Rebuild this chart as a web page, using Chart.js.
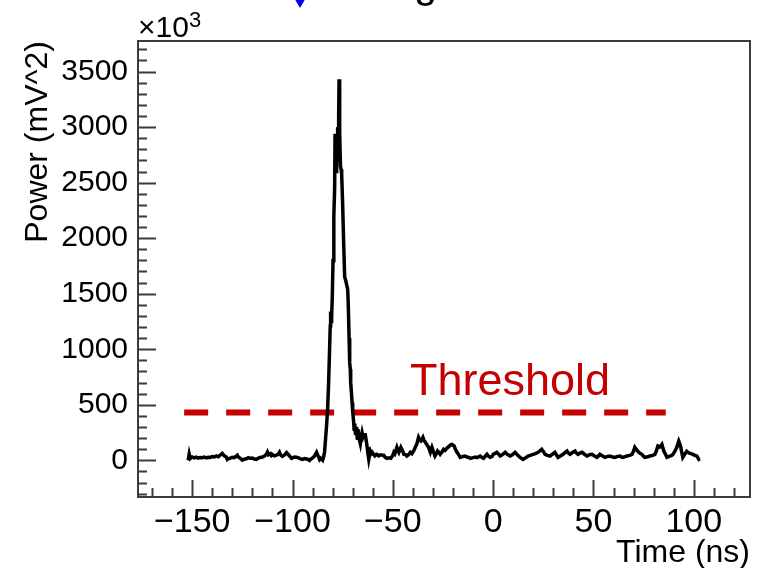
<!DOCTYPE html>
<html>
<head>
<meta charset="utf-8">
<script src="https://cdn.jsdelivr.net/npm/chart.js@4.4.1/dist/chart.umd.min.js"></script>
<style>
  html, body { margin: 0; padding: 0; background: #fff; }
</style>
</head>
<body>
<canvas id="powerChart" width="761" height="568"></canvas>
<script>
// waveform, power in units of 10^3 mV^2
const times = [
  -152, -151.5, -151, -150, -149, -148, -147, -146, -145, -144, -143, -142, -141, -140, -139, -138, -137, -136, -135, -134,
  -133, -132.5, -132, -131, -130, -129, -128, -127.5, -127, -126, -125, -124, -123, -122, -121, -120, -119, -118, -117, -116,
  -115, -114, -113, -112.5, -112, -111, -110.5, -110, -109, -108, -107, -106.5, -106, -105, -104, -103, -102, -101, -100.5, -100,
  -99, -98, -97, -96, -95, -94, -93, -92, -91.5, -91, -90, -89, -88, -87.5, -87, -86.5, -86, -85, -84.5,
  -84, -83.5, -83, -82.5, -82, -81.6, -81.2, -81, -80.8, -80.5, -80.2, -79.8, -79.4, -79, -78.8, -78.6, -78.4, -78.2, -78, -77.8,
  -77.5, -77.2, -77, -76.8, -76.6, -76.4, -76.1, -75.8, -75.5, -75, -74.5, -74, -73.5, -73, -72.5, -72.2, -71.8, -71.5, -71.2, -71,
  -70.6, -70.3, -70, -69.6, -69.3, -69, -68.6, -68.3, -68, -67.7, -67.4, -67, -66.6, -66.2, -65.8, -65.3, -64.8, -64.3, -63.7, -63.2,
  -62.8, -62.4, -62, -61.5, -61.2, -60.8, -60.3, -59.5, -59, -58.5, -58, -57, -56, -55, -54.5, -54, -53, -52, -51, -50,
  -49.5, -49, -48, -47.5, -47, -46.5, -46, -45, -44.5, -43.5, -43, -42, -41.3, -40.5, -39.5, -38.8, -38, -37.2, -36.5, -36,
  -35.5, -35, -34.5, -33.8, -33, -32.2, -31.3, -30.5, -30, -29, -28.3, -27.7, -27, -26.4, -25.5, -24.7, -24, -23, -22, -21.2,
  -20.5, -19.5, -18.8, -18, -17, -16.4, -15, -14, -13, -12, -11.4, -10.5, -9.5, -9, -8, -7, -6.5, -5.5, -4.8, -4,
  -3.1, -2.5, -1.5, -0.5, 0, 1, 1.8, 2.5, 3.5, 4.5, 6, 7, 8.5, 9.5, 10.9, 12, 13.4, 14.9, 16, 17.4,
  18.5, 19.9, 21, 22.4, 23.3, 24.2, 25, 25.9, 27, 28.4, 29.5, 30.8, 31.5, 32.3, 33.5, 34.8, 35.8, 36.8, 37.5, 38.3,
  39.5, 40.8, 41.5, 42.3, 43.3, 44.3, 45.5, 46.8, 48, 49.3, 50.5, 51.7, 52.5, 53.2, 54.5, 55.7, 57, 58.2, 59.5, 60.7,
  62, 63.2, 64, 64.7, 65.7, 66.7, 68, 69.2, 70, 70.6, 71.3, 72.1, 73, 74.1, 75, 75.6, 77, 78.1, 79.5, 80.6,
  81.4, 82.1, 83, 84.1, 84.6, 85.1, 86, 86.6, 87.5, 88.1, 89, 89.6, 90.5, 91.5, 92.5, 93, 93.5, 94.5, 95.5, 96.5,
  97.3, 98, 99, 99.5, 100.5, 101.5, 102, 102.5, 103
];
const power = [
  0, 55, 15, 30, 22, 28, 20, 26, 24, 30, 22, 28, 26, 34, 30, 40, 32, 48, 62, 40,
  30, 8, 14, 20, 28, 24, 38, 46, 30, 18, 2, 10, 14, 24, 18, 20, 12, 8, 20, 26,
  30, 38, 55, 74, 50, 60, 44, 52, 40, 46, 58, 72, 50, 36, 48, 70, 50, 30, 18, 22,
  30, 28, 22, 14, 8, 16, 12, 6, 0, 10, 22, 40, 72, 50, 30, 8, 20, 2, 30,
  80, 200, 320, 460, 700, 950, 1210, 1340, 1250, 1300, 1450, 1800, 2200, 2450, 2940, 2700, 2880, 2600, 2900, 2700,
  3000, 2750, 3100, 3430, 2750, 2950, 2650, 2620, 2580, 2300, 1950, 1650, 1620, 1580, 1540, 1400, 1100, 880, 820, 700,
  600, 520, 440, 360, 280, 330, 230, 300, 240, 200, 280, 240, 180, 150, 200, 250, 210, 230, 230, 170,
  120, 60, 10, 60, 80, 60, 72, 50, 40, 50, 54, 40, 50, 45, 45, 30, 18, 22, 18, 45,
  72, 60, 117, 90, 72, 95, 117, 80, 54, 50, 39, 55, 72, 60, 90, 117, 150, 207, 180, 174,
  190, 207, 180, 162, 140, 117, 72, 117, 90, 39, 60, 84, 70, 54, 75, 99, 90, 110, 125, 140,
  144, 130, 100, 72, 45, 27, 35, 39, 30, 25, 18, 22, 27, 30, 24, 35, 39, 25, 18, 35,
  54, 40, 27, 35, 54, 62, 72, 60, 39, 50, 72, 55, 39, 50, 72, 50, 27, 9, 20, 39,
  45, 54, 60, 72, 85, 99, 80, 54, 45, 39, 55, 72, 50, 27, 40, 54, 70, 84, 65, 54,
  70, 84, 65, 54, 65, 72, 55, 39, 50, 54, 40, 27, 40, 54, 40, 27, 35, 39, 30, 27,
  35, 39, 30, 27, 33, 39, 45, 54, 85, 117, 100, 81, 65, 54, 35, 27, 32, 39, 45, 54,
  90, 129, 120, 144, 110, 81, 50, 27, 33, 39, 45, 54, 80, 117, 174, 150, 117, 27, 55, 81,
  70, 63, 58, 54, 45, 39, 25, 9, 15
];
const thresholdTimes = [-154, 86];
const thresholdLevel = 430;
const xTicks = [-150, -100, -50, 0, 50, 100];
const yTicks = [0, 500, 1000, 1500, 2000, 2500, 3000, 3500];
const xMinorStep = 10;
const yMinorStep = 100;

const fontFamily = "'Liberation Sans', Arial, Helvetica, sans-serif";
const thresholdColor = "#c40000";

function fmtTick(v) {
    return v < 0 ? "\u2212" + Math.abs(v) : String(v);
}

const rootFrame = {
    id: "rootFrame",
    afterDraw(chart) {
        const { ctx, chartArea: a, scales } = chart;
        const xs = scales.x, ys = scales.y;
        ctx.save();
        ctx.strokeStyle = "#3c3c3c";
        ctx.lineWidth = 2;
        ctx.beginPath();
        // inside ticks, bottom axis
        for (let v = Math.ceil(xs.min / xMinorStep) * xMinorStep; v <= xs.max; v += xMinorStep) {
            const px = Math.round(xs.getPixelForValue(v)) + 0.5;
            const len = v % 50 === 0 ? 17 : 9;
            ctx.moveTo(px, a.bottom);
            ctx.lineTo(px, a.bottom - len);
        }
        // inside ticks, left axis
        for (let v = Math.ceil(ys.min / yMinorStep) * yMinorStep; v <= ys.max; v += yMinorStep) {
            const py = Math.round(ys.getPixelForValue(v)) + 0.5;
            const len = v % 500 === 0 ? 18 : 9;
            ctx.moveTo(a.left, py);
            ctx.lineTo(a.left + len, py);
        }
        ctx.stroke();
        ctx.strokeRect(a.left, a.top, a.right - a.left, a.bottom - a.top);

        // exponent
        ctx.fillStyle = "#000";
        ctx.textBaseline = "alphabetic";
        ctx.textAlign = "left";
        ctx.font = "30px " + fontFamily;
        ctx.fillText("\u00d710", a.left, 37);
        const w = ctx.measureText("\u00d710").width;
        ctx.font = "22px " + fontFamily;
        ctx.fillText("3", a.left + w, 27);

        // threshold label
        ctx.fillStyle = thresholdColor;
        ctx.font = "45px " + fontFamily;
        ctx.fillText("Threshold", xs.getPixelForValue(-41.5), ys.getPixelForValue(590));

        // cut-off bits from the figure above
        ctx.fillStyle = "#0000ee";
        ctx.beginPath();
        ctx.moveTo(293, -4);
        ctx.lineTo(307, -4);
        ctx.lineTo(300, 8);
        ctx.closePath();
        ctx.fill();
        ctx.fillStyle = "#000";
        ctx.font = "42px " + fontFamily;
        ctx.fillText("g", 414, -3);
        ctx.restore();
    },
};

const ctx = document.getElementById("powerChart").getContext("2d");
new Chart(ctx, {
    type: "scatter",
    data: {
        datasets: [
            {
                label: "Power",
                data: times.map((t, i) => ({ x: t, y: power[i] })),
                showLine: true,
                borderColor: "#000",
                borderWidth: 3.5,
                pointRadius: 0,
                tension: 0,
            },
            {
                label: "Threshold",
                data: thresholdTimes.map((t) => ({ x: t, y: thresholdLevel })),
                showLine: true,
                borderColor: thresholdColor,
                borderWidth: 6,
                borderDash: [24, 18],
                pointRadius: 0,
            },
        ],
    },
    options: {
        responsive: false,
        animation: false,
        layout: { padding: { left: 0, right: 11, top: 41, bottom: 0 } },
        plugins: { legend: { display: false }, tooltip: { enabled: false } },
        scales: {
            x: {
                type: "linear",
                min: -177,
                max: 128,
                afterBuildTicks: (scale) => {
                    scale.ticks = xTicks.map((v) => ({ value: v }));
                },
                afterFit: (scale) => {
                    scale.height = 71;
                },
                grid: { display: false, drawTicks: false },
                border: { display: false },
                ticks: {
                    color: "#000",
                    padding: 5,
                    maxRotation: 0,
                    autoSkip: false,
                    font: { family: fontFamily, size: 34 },
                    callback: fmtTick,
                },
                title: {
                    display: true,
                    text: "Time (ns)",
                    align: "end",
                    color: "#000",
                    font: { family: fontFamily, size: 32, lineHeight: 0.9 },
                    padding: { top: 0, bottom: 0 },
                },
            },
            y: {
                type: "linear",
                min: -330,
                max: 3775,
                afterBuildTicks: (scale) => {
                    scale.ticks = yTicks.map((v) => ({ value: v }));
                },
                afterFit: (scale) => {
                    scale.width = 138;
                },
                grid: { display: false, drawTicks: false },
                border: { display: false },
                ticks: {
                    color: "#000",
                    padding: 10,
                    font: { family: fontFamily, size: 30 },
                    callback: fmtTick,
                },
                title: {
                    display: true,
                    text: "Power (mV^2)",
                    align: "end",
                    color: "#000",
                    font: { family: fontFamily, size: 32, lineHeight: 1 },
                    padding: { top: 22, bottom: 0 },
                },
            },
        },
    },
    plugins: [rootFrame],
});
</script>
</body>
</html>
